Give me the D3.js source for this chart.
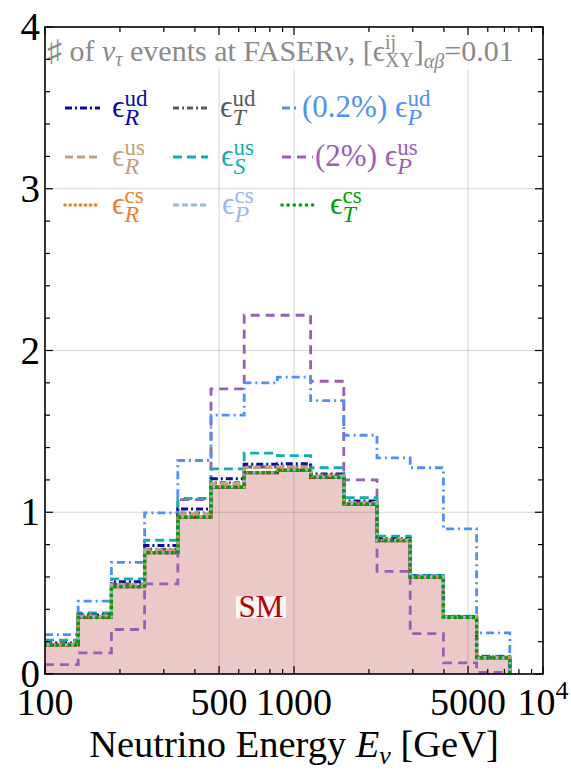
<!DOCTYPE html>
<html>
<head>
<meta charset="utf-8">
<script src="https://cdn.jsdelivr.net/npm/d3@7"></script>
<style>
  html, body { margin: 0; padding: 0; background: #fff; }
  svg { display: block; }
  svg text { white-space: pre; }
</style>
</head>
<body>
<div id="chart"></div>
<script>
// Tau-neutrino event histograms at FASERnu, SM vs. NSI benchmarks.

// Bin edges in GeV (log-spaced, 2/15 decade per bin)
const binEdges = [100, 135.9, 184.8, 251.2, 341.5, 464.2, 631.0, 857.7, 1165.9, 1584.9, 2154.4, 2928.6, 3981.1, 5411.7, 7356.4];

// Events per bin
const smEvents   = [0.180, 0.350, 0.540, 0.750, 0.970, 1.155, 1.245, 1.260, 1.215, 1.050, 0.825, 0.598, 0.350, 0.100];
const udR        = [0.192, 0.365, 0.570, 0.795, 1.020, 1.207, 1.297, 1.300, 1.237, 1.070, 0.836, 0.606, 0.355, 0.105];
const udT        = [0.186, 0.360, 0.556, 0.772, 0.996, 1.182, 1.280, 1.285, 1.230, 1.060, 0.832, 0.603, 0.353, 0.103];
const udP        = [0.244, 0.450, 0.690, 0.996, 1.320, 1.600, 1.800, 1.835, 1.690, 1.476, 1.336, 1.275, 0.897, 0.254];
const usR        = [0.185, 0.358, 0.554, 0.768, 0.990, 1.178, 1.275, 1.280, 1.226, 1.060, 0.830, 0.601, 0.352, 0.102];
const usS        = [0.210, 0.378, 0.588, 0.827, 1.085, 1.268, 1.365, 1.350, 1.275, 1.090, 0.852, 0.610, 0.357, 0.110];
const usP        = [0.058, 0.130, 0.275, 0.557, 1.078, 1.763, 2.218, 2.218, 1.810, 1.200, 0.635, 0.250, 0.069, 0.010];
const csR        = [0.182, 0.352, 0.543, 0.753, 0.973, 1.158, 1.248, 1.263, 1.218, 1.052, 0.827, 0.600, 0.351, 0.101];
const csP        = [0.181, 0.351, 0.541, 0.751, 0.971, 1.156, 1.246, 1.261, 1.216, 1.051, 0.826, 0.599, 0.350, 0.100];
const csT        = [0.180, 0.350, 0.540, 0.750, 0.970, 1.155, 1.245, 1.260, 1.215, 1.050, 0.825, 0.598, 0.350, 0.100];

const yTicks = [0, 1, 2, 3, 4];
const xTickLabels = [[100, '100'], [500, '500'], [1000, '1000'], [5000, '5000'], [10000, '10']];
const xGrid = [500, 1000, 5000];
const yGrid = [1, 2, 3];

const W = 571, H = 770;
const serif = "'Liberation Serif', 'DejaVu Serif', 'Times New Roman', serif";
const plotBox = {left: 45, right: 543, top: 27, bottom: 674};

const svg = d3.select('#chart').append('svg').attr('width', W).attr('height', H)
  .style('font-family', serif);

const x = d3.scaleLog().domain([100, 10000]).range([plotBox.left, plotBox.right]);
const y = d3.scaleLinear().domain([0, 4]).range([plotBox.bottom, plotBox.top]);

// Rich text helper: pieces laid out left to right, sup/sub pairs stacked.
function rich(parent, px, py, parts, opts){
  const g = parent.append('g');
  let cx = 0, pending = null;
  parts.forEach(p => {
    const sx = (p.stack === 'sub' && pending) ? pending.x : cx;
    const t = g.append('text')
      .attr('x', sx).attr('y', p.dy || 0)
      .attr('xml:space', 'preserve')
      .style('font-size', (p.s || opts.size) + 'px')
      .style('font-style', p.it ? 'italic' : 'normal')
      .attr('fill', p.fill || opts.fill)
      .text(p.t);
    const w = t.node().getComputedTextLength();
    if(p.stack === 'sup'){ pending = {x: sx, w}; }
    else if(p.stack === 'sub' && pending){ cx = pending.x + Math.max(pending.w, w); pending = null; }
    else cx = sx + w;
  });
  const shift = opts.anchor === 'middle' ? cx / 2 : (opts.anchor === 'end' ? cx : 0);
  g.attr('transform', `translate(${px - shift},${py})`);
  return cx;
}

svg.append('clipPath').attr('id', 'clip').append('rect')
  .attr('x', plotBox.left).attr('y', plotBox.top)
  .attr('width', plotBox.right - plotBox.left).attr('height', plotBox.bottom - plotBox.top);

const plot = svg.append('g').attr('clip-path', 'url(#clip)');

// step points: each bin value at its left edge, plus closing point at last edge
const stepPts = vals => vals.map((v, i) => [binEdges[i], v]).concat([[binEdges[binEdges.length - 1], vals[vals.length - 1]], [binEdges[binEdges.length - 1], 0]]);
const line = d3.line().x(d => x(d[0])).y(d => y(d[1])).curve(d3.curveStepAfter);
const area = d3.area().x(d => x(d[0])).y0(y(0)).y1(d => y(d[1])).curve(d3.curveStepAfter);

// SM filled histogram
plot.append('path').attr('d', area(stepPts(smEvents))).attr('fill', '#ecc9c9');

// grid
plot.selectAll('line.hgrid').data(yGrid).join('line').attr('class', 'hgrid')
  .attr('x1', plotBox.left).attr('x2', plotBox.right)
  .attr('y1', d => y(d)).attr('y2', d => y(d))
  .attr('stroke', '#000').attr('stroke-opacity', 0.17).attr('stroke-width', 1);
plot.selectAll('line.vgrid').data(xGrid).join('line').attr('class', 'vgrid')
  .attr('x1', d => x(d)).attr('x2', d => x(d))
  .attr('y1', plotBox.top).attr('y2', plotBox.bottom)
  .attr('stroke', '#000').attr('stroke-opacity', 0.17).attr('stroke-width', 1);

plot.append('path').attr('d', line(stepPts(smEvents)))
  .attr('fill', 'none').attr('stroke', '#b01010').attr('stroke-width', 3.2);

// NSI curves (draw order matters: green dotted ends on top)
const series = [
  {vals: usP, color: '#9b5db5', dash: '9,6', width: 2.8, cap: 'butt'},
  {vals: udP, color: '#4f8ff7', dash: '8,4,2,4', width: 2.8, cap: 'butt'},
  {vals: usS, color: '#14adad', dash: '9,5', width: 2.8, cap: 'butt'},
  {vals: udR, color: '#0a0aa6', dash: '7,3,2,3', width: 3, cap: 'butt'},
  {vals: udT, color: '#5a5a5a', dash: '6,3,2,3', width: 3, cap: 'butt'},
  {vals: usR, color: '#c1a07e', dash: '8,4', width: 3, cap: 'butt'},
  {vals: csR, color: '#e8812e', dash: '0.1,5', width: 3, cap: 'round'},
  {vals: csP, color: '#9ab6ec', dash: '6,3', width: 2.6, cap: 'butt'},
  {vals: csT, color: '#00a000', dash: '0.1,6', width: 3.8, cap: 'round'}
];
plot.selectAll('path.nsi').data(series).join('path').attr('class', 'nsi')
  .attr('d', d => line(stepPts(d.vals)))
  .attr('fill', 'none')
  .attr('stroke', d => d.color)
  .attr('stroke-width', d => d.width)
  .attr('stroke-dasharray', d => d.dash)
  .attr('stroke-linecap', d => d.cap);

// SM label
const smG = svg.append('g');
smG.append('rect').attr('x', x(737) - 25).attr('y', y(0.48)).attr('width', 50).attr('height', 22)
  .attr('fill', '#fff').attr('fill-opacity', 0.8);
smG.append('text').attr('x', x(737)).attr('y', y(0.355)).attr('text-anchor', 'middle')
  .style('font-size', '31px').attr('fill', '#b00000').text('SM');

// title box
svg.append('rect').attr('x', plotBox.left + 1).attr('y', plotBox.top + 2)
  .attr('width', 495).attr('height', 41).attr('fill', '#fff').attr('fill-opacity', 0.75);
const gray = '#8a8a8a';
rich(svg, 47, 61, [
  {t: '\u266F of '}, {t: '\u03BD', it: true}, {t: '\u03C4', it: true, s: 20, dy: 5},
  {t: ' events at FASER'}, {t: '\u03BD', it: true}, {t: ', ['}, {t: '\u03F5'},
  {t: 'ij', s: 20, dy: -12, stack: 'sup'}, {t: 'XY', s: 20, dy: 6, stack: 'sub'},
  {t: ']'}, {t: '\u03B1\u03B2', it: true, s: 20, dy: 7}, {t: '=0.01'}
], {size: 30, fill: gray});

// legend
const legendRows = [
  [{c: '#0a0aa6', dash: '7,3,2,3', cap: 'butt', sup: 'ud', sub: 'R'},
   {c: '#5a5a5a', dash: '6,3,2,3', cap: 'butt', sup: 'ud', sub: 'T'},
   {c: '#4f8ff7', dash: '8,4,2,4', cap: 'butt', sup: 'ud', sub: 'P', pre: '(0.2%) '}],
  [{c: '#c1a07e', dash: '8,4', cap: 'butt', sup: 'us', sub: 'R'},
   {c: '#14adad', dash: '9,5', cap: 'butt', sup: 'us', sub: 'S'},
   {c: '#9b5db5', dash: '9,6', cap: 'butt', sup: 'us', sub: 'P', pre: '(2%) '}],
  [{c: '#e8812e', dash: '0.1,5', cap: 'round', sup: 'cs', sub: 'R'},
   {c: '#9ab6ec', dash: '6,3', cap: 'butt', sup: 'cs', sub: 'P'},
   {c: '#00a000', dash: '0.1,6', cap: 'round', sup: 'cs', sub: 'T'}]
];
const rowY = [108, 157, 205];
const lineX = [[65, 100], [173, 208], [282, 316]];
const textX = [[112, 220, 302], [112, 221, 315], [112, 222, 330]];
const lineEnd3 = [300, 313, 316];
legendRows.forEach((row, r) => {
  row.forEach((e, c) => {
    const x2 = c === 2 ? lineEnd3[r] : lineX[c][1];
    svg.append('line').attr('x1', lineX[c][0]).attr('x2', x2)
      .attr('y1', rowY[r]).attr('y2', rowY[r])
      .attr('stroke', e.c).attr('stroke-width', e.cap === 'round' ? 3.6 : 3)
      .attr('stroke-dasharray', e.dash).attr('stroke-linecap', e.cap);
    const parts = [];
    if(e.pre) parts.push({t: e.pre});
    parts.push({t: '\u03F5'}, {t: e.sup, s: 23, dy: -11, stack: 'sup'}, {t: e.sub, it: true, s: 24, dy: 8, stack: 'sub'});
    rich(svg, textX[r][c], rowY[r] + 9, parts, {size: 31, fill: e.c});
  });
});

// frame
svg.append('rect').attr('x', plotBox.left).attr('y', plotBox.top)
  .attr('width', plotBox.right - plotBox.left).attr('height', plotBox.bottom - plotBox.top)
  .attr('fill', 'none').attr('stroke', '#000').attr('stroke-width', 1.6);

// x ticks (inward, bottom and top)
const xMajor = [100, 500, 1000, 5000, 10000];
const xMinor = [200, 300, 400, 600, 700, 800, 900, 2000, 3000, 4000, 6000, 7000, 8000, 9000];
const tickG = svg.append('g').attr('stroke', '#000').attr('stroke-width', 1.2);
[[xMajor, 8], [xMinor, 5]].forEach(([vals, len]) => {
  vals.forEach(v => {
    tickG.append('line').attr('x1', x(v)).attr('x2', x(v)).attr('y1', plotBox.bottom).attr('y2', plotBox.bottom - len);
    tickG.append('line').attr('x1', x(v)).attr('x2', x(v)).attr('y1', plotBox.top).attr('y2', plotBox.top + len);
  });
});
// y ticks
d3.range(0, 4.001, 0.2).forEach(v => {
  const len = Math.abs(v - Math.round(v)) < 1e-6 ? 8 : 5;
  tickG.append('line').attr('x1', plotBox.left).attr('x2', plotBox.left + len).attr('y1', y(v)).attr('y2', y(v));
  tickG.append('line').attr('x1', plotBox.right).attr('x2', plotBox.right - len).attr('y1', y(v)).attr('y2', y(v));
});

// tick labels
svg.selectAll('text.ylab').data(yTicks).join('text').attr('class', 'ylab')
  .attr('x', plotBox.left - 5).attr('y', d => y(d) + 13)
  .attr('text-anchor', 'end').style('font-size', '39px').text(d => d);
xTickLabels.forEach(([v, s]) => {
  const parts = [{t: s}];
  if(v === 10000) parts.push({t: '4', s: 26, dy: -16});
  rich(svg, x(v), 715, parts, {size: 38, fill: '#000', anchor: 'middle'});
});

// axis title
rich(svg, 294, 757, [
  {t: 'Neutrino Energy '}, {t: 'E', it: true}, {t: '\u03BD', it: true, s: 26, dy: 7}, {t: ' [GeV]'}
], {size: 38.5, fill: '#000', anchor: 'middle'});
</script>
</body>
</html>
